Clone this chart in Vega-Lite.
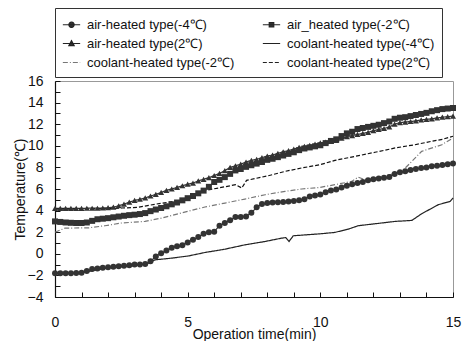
{
  "$schema": "https://vega.github.io/schema/vega-lite/v6.json",
  "width": 398,
  "height": 216,
  "autosize": {"type": "none"},
  "padding": {"left": 55, "top": 81, "right": 10, "bottom": 44},
  "background": "white",
  "config": {
    "view": {"stroke": "#999", "strokeWidth": 1},
    "font": "Liberation Sans",
    "axis": {"domainColor": "#111", "tickColor": "#111", "labelColor": "#111", "titleColor": "#111", "labelFont": "Liberation Sans", "titleFont": "Liberation Sans", "labelFontSize": 14, "titleFontSize": 14, "titleFontWeight": "normal", "grid": false, "tickSize": -5, "domainWidth": 1.2, "tickWidth": 1},
    "legend": {"labelFont": "Liberation Sans", "labelFontSize": 13, "labelColor": "#111"}
  },
  "data": {"values": [
    {"s":"A1","t":0,"v":-1.8},{"s":"A1","t":0.2,"v":-1.8},{"s":"A1","t":0.4,"v":-1.8},{"s":"A1","t":0.6,"v":-1.8},{"s":"A1","t":0.8,"v":-1.78},{"s":"A1","t":1,"v":-1.75},{"s":"A1","t":1.2,"v":-1.6},{"s":"A1","t":1.4,"v":-1.4},{"s":"A1","t":1.6,"v":-1.35},{"s":"A1","t":1.8,"v":-1.3},
    {"s":"A1","t":2,"v":-1.25},{"s":"A1","t":2.2,"v":-1.2},{"s":"A1","t":2.4,"v":-1.15},{"s":"A1","t":2.6,"v":-1.1},{"s":"A1","t":2.8,"v":-1.05},{"s":"A1","t":3,"v":-1.0},{"s":"A1","t":3.2,"v":-1.0},{"s":"A1","t":3.4,"v":-0.95},{"s":"A1","t":3.6,"v":-0.7},{"s":"A1","t":3.8,"v":-0.25},
    {"s":"A1","t":4,"v":0.05},{"s":"A1","t":4.2,"v":0.3},{"s":"A1","t":4.4,"v":0.55},{"s":"A1","t":4.6,"v":0.7},{"s":"A1","t":4.8,"v":0.8},{"s":"A1","t":5,"v":1.05},{"s":"A1","t":5.2,"v":1.3},{"s":"A1","t":5.4,"v":1.55},{"s":"A1","t":5.6,"v":1.85},{"s":"A1","t":5.8,"v":2.0},
    {"s":"A1","t":6,"v":2.05},{"s":"A1","t":6.2,"v":2.6},{"s":"A1","t":6.4,"v":2.85},{"s":"A1","t":6.6,"v":3.1},{"s":"A1","t":6.8,"v":3.4},{"s":"A1","t":7,"v":3.4},{"s":"A1","t":7.2,"v":3.45},{"s":"A1","t":7.4,"v":3.8},{"s":"A1","t":7.6,"v":4.3},{"s":"A1","t":7.8,"v":4.6},
    {"s":"A1","t":8,"v":4.7},{"s":"A1","t":8.2,"v":4.75},{"s":"A1","t":8.4,"v":4.78},{"s":"A1","t":8.6,"v":4.8},{"s":"A1","t":8.8,"v":4.85},{"s":"A1","t":9,"v":4.9},{"s":"A1","t":9.2,"v":4.95},{"s":"A1","t":9.4,"v":5.05},{"s":"A1","t":9.6,"v":5.3},{"s":"A1","t":9.8,"v":5.4},
    {"s":"A1","t":10,"v":5.5},{"s":"A1","t":10.2,"v":5.7},{"s":"A1","t":10.4,"v":5.85},{"s":"A1","t":10.6,"v":5.95},{"s":"A1","t":10.8,"v":6.15},{"s":"A1","t":11,"v":6.3},{"s":"A1","t":11.2,"v":6.45},{"s":"A1","t":11.4,"v":6.55},{"s":"A1","t":11.6,"v":6.65},{"s":"A1","t":11.8,"v":6.8},
    {"s":"A1","t":12,"v":6.9},{"s":"A1","t":12.2,"v":6.98},{"s":"A1","t":12.4,"v":7.05},{"s":"A1","t":12.6,"v":7.1},{"s":"A1","t":12.8,"v":7.4},{"s":"A1","t":13,"v":7.55},{"s":"A1","t":13.2,"v":7.65},{"s":"A1","t":13.4,"v":7.75},{"s":"A1","t":13.6,"v":7.85},{"s":"A1","t":13.8,"v":7.95},
    {"s":"A1","t":14,"v":8.0},{"s":"A1","t":14.2,"v":8.1},{"s":"A1","t":14.4,"v":8.15},{"s":"A1","t":14.6,"v":8.22},{"s":"A1","t":14.8,"v":8.3},{"s":"A1","t":15,"v":8.35},

    {"s":"A2","t":0,"v":3.0},{"s":"A2","t":0.2,"v":2.95},{"s":"A2","t":0.4,"v":2.9},{"s":"A2","t":0.6,"v":2.87},{"s":"A2","t":0.8,"v":2.85},{"s":"A2","t":1,"v":2.85},{"s":"A2","t":1.2,"v":2.9},{"s":"A2","t":1.4,"v":3.05},{"s":"A2","t":1.6,"v":3.2},{"s":"A2","t":1.8,"v":3.25},
    {"s":"A2","t":2,"v":3.3},{"s":"A2","t":2.2,"v":3.38},{"s":"A2","t":2.4,"v":3.45},{"s":"A2","t":2.6,"v":3.52},{"s":"A2","t":2.8,"v":3.58},{"s":"A2","t":3,"v":3.62},{"s":"A2","t":3.2,"v":3.68},{"s":"A2","t":3.4,"v":3.77},{"s":"A2","t":3.6,"v":3.95},{"s":"A2","t":3.8,"v":4.1},
    {"s":"A2","t":4,"v":4.24},{"s":"A2","t":4.2,"v":4.4},{"s":"A2","t":4.4,"v":4.58},{"s":"A2","t":4.6,"v":4.75},{"s":"A2","t":4.8,"v":4.95},{"s":"A2","t":5,"v":5.15},{"s":"A2","t":5.2,"v":5.35},{"s":"A2","t":5.4,"v":5.6},{"s":"A2","t":5.6,"v":5.85},{"s":"A2","t":5.8,"v":6.2},
    {"s":"A2","t":6,"v":6.65},{"s":"A2","t":6.2,"v":6.85},{"s":"A2","t":6.4,"v":7.1},{"s":"A2","t":6.6,"v":7.4},{"s":"A2","t":6.8,"v":7.72},{"s":"A2","t":7,"v":7.85},{"s":"A2","t":7.2,"v":8.05},{"s":"A2","t":7.4,"v":8.2},{"s":"A2","t":7.6,"v":8.35},{"s":"A2","t":7.8,"v":8.5},
    {"s":"A2","t":8,"v":8.7},{"s":"A2","t":8.2,"v":8.8},{"s":"A2","t":8.4,"v":8.95},{"s":"A2","t":8.6,"v":9.1},{"s":"A2","t":8.8,"v":9.25},{"s":"A2","t":9,"v":9.4},{"s":"A2","t":9.2,"v":9.6},{"s":"A2","t":9.4,"v":9.75},{"s":"A2","t":9.6,"v":9.85},{"s":"A2","t":9.8,"v":9.95},
    {"s":"A2","t":10,"v":10.05},{"s":"A2","t":10.2,"v":10.25},{"s":"A2","t":10.4,"v":10.45},{"s":"A2","t":10.6,"v":10.6},{"s":"A2","t":10.8,"v":10.9},{"s":"A2","t":11,"v":11.15},{"s":"A2","t":11.2,"v":11.3},{"s":"A2","t":11.4,"v":11.55},{"s":"A2","t":11.6,"v":11.65},{"s":"A2","t":11.8,"v":11.75},
    {"s":"A2","t":12,"v":11.85},{"s":"A2","t":12.2,"v":11.95},{"s":"A2","t":12.4,"v":12.1},{"s":"A2","t":12.6,"v":12.25},{"s":"A2","t":12.8,"v":12.5},{"s":"A2","t":13,"v":12.6},{"s":"A2","t":13.2,"v":12.65},{"s":"A2","t":13.4,"v":12.75},{"s":"A2","t":13.6,"v":12.85},{"s":"A2","t":13.8,"v":12.95},
    {"s":"A2","t":14,"v":13.05},{"s":"A2","t":14.2,"v":13.2},{"s":"A2","t":14.4,"v":13.3},{"s":"A2","t":14.6,"v":13.4},{"s":"A2","t":14.8,"v":13.45},{"s":"A2","t":15,"v":13.5},

    {"s":"A3","t":0,"v":4.2},{"s":"A3","t":0.2,"v":4.2},{"s":"A3","t":0.4,"v":4.2},{"s":"A3","t":0.6,"v":4.2},{"s":"A3","t":0.8,"v":4.2},{"s":"A3","t":1,"v":4.2},{"s":"A3","t":1.2,"v":4.22},{"s":"A3","t":1.4,"v":4.22},{"s":"A3","t":1.6,"v":4.22},{"s":"A3","t":1.8,"v":4.24},
    {"s":"A3","t":2,"v":4.27},{"s":"A3","t":2.2,"v":4.32},{"s":"A3","t":2.4,"v":4.45},{"s":"A3","t":2.6,"v":4.6},{"s":"A3","t":2.8,"v":4.78},{"s":"A3","t":3,"v":4.94},{"s":"A3","t":3.2,"v":5.05},{"s":"A3","t":3.4,"v":5.17},{"s":"A3","t":3.6,"v":5.35},{"s":"A3","t":3.8,"v":5.5},
    {"s":"A3","t":4,"v":5.68},{"s":"A3","t":4.2,"v":5.88},{"s":"A3","t":4.4,"v":6.0},{"s":"A3","t":4.6,"v":6.15},{"s":"A3","t":4.8,"v":6.3},{"s":"A3","t":5,"v":6.45},{"s":"A3","t":5.2,"v":6.55},{"s":"A3","t":5.4,"v":6.75},{"s":"A3","t":5.6,"v":6.9},{"s":"A3","t":5.8,"v":7.05},
    {"s":"A3","t":6,"v":7.25},{"s":"A3","t":6.2,"v":7.45},{"s":"A3","t":6.4,"v":7.7},{"s":"A3","t":6.6,"v":8.0},{"s":"A3","t":6.8,"v":8.15},{"s":"A3","t":7,"v":8.3},{"s":"A3","t":7.2,"v":8.5},{"s":"A3","t":7.4,"v":8.65},{"s":"A3","t":7.6,"v":8.75},{"s":"A3","t":7.8,"v":8.9},
    {"s":"A3","t":8,"v":9.05},{"s":"A3","t":8.2,"v":9.15},{"s":"A3","t":8.4,"v":9.3},{"s":"A3","t":8.6,"v":9.45},{"s":"A3","t":8.8,"v":9.55},{"s":"A3","t":9,"v":9.7},{"s":"A3","t":9.2,"v":9.85},{"s":"A3","t":9.4,"v":9.95},{"s":"A3","t":9.6,"v":10.05},{"s":"A3","t":9.8,"v":10.15},
    {"s":"A3","t":10,"v":10.27},{"s":"A3","t":10.2,"v":10.35},{"s":"A3","t":10.4,"v":10.42},{"s":"A3","t":10.6,"v":10.5},{"s":"A3","t":10.8,"v":10.7},{"s":"A3","t":11,"v":10.85},{"s":"A3","t":11.2,"v":10.95},{"s":"A3","t":11.4,"v":11.05},{"s":"A3","t":11.6,"v":11.15},{"s":"A3","t":11.8,"v":11.25},
    {"s":"A3","t":12,"v":11.4},{"s":"A3","t":12.2,"v":11.52},{"s":"A3","t":12.4,"v":11.6},{"s":"A3","t":12.6,"v":11.75},{"s":"A3","t":12.8,"v":12.0},{"s":"A3","t":13,"v":12.15},{"s":"A3","t":13.2,"v":12.2},{"s":"A3","t":13.4,"v":12.25},{"s":"A3","t":13.6,"v":12.3},{"s":"A3","t":13.8,"v":12.4},
    {"s":"A3","t":14,"v":12.45},{"s":"A3","t":14.2,"v":12.5},{"s":"A3","t":14.4,"v":12.58},{"s":"A3","t":14.6,"v":12.65},{"s":"A3","t":14.8,"v":12.7},{"s":"A3","t":15,"v":12.75},

    {"s":"C1","t":0,"v":-1.8},{"s":"C1","t":1,"v":-1.75},{"s":"C1","t":2,"v":-1.3},{"s":"C1","t":3,"v":-1.1},{"s":"C1","t":3.5,"v":-0.9},{"s":"C1","t":3.77,"v":-0.56},{"s":"C1","t":4.4,"v":-0.4},{"s":"C1","t":5.03,"v":-0.2},{"s":"C1","t":5.65,"v":0.12},{"s":"C1","t":6.41,"v":0.43},
    {"s":"C1","t":7.16,"v":0.83},{"s":"C1","t":7.92,"v":1.14},{"s":"C1","t":8.54,"v":1.45},{"s":"C1","t":8.7,"v":1.5},{"s":"C1","t":8.82,"v":1.14},{"s":"C1","t":8.98,"v":1.67},{"s":"C1","t":9.99,"v":1.85},{"s":"C1","t":10.55,"v":1.98},{"s":"C1","t":11.06,"v":2.29},{"s":"C1","t":11.43,"v":2.6},
    {"s":"C1","t":12.06,"v":2.78},{"s":"C1","t":12.82,"v":3.0},{"s":"C1","t":13.45,"v":3.09},{"s":"C1","t":13.82,"v":3.71},{"s":"C1","t":14.45,"v":4.55},{"s":"C1","t":14.89,"v":4.85},{"s":"C1","t":15,"v":5.17},

    {"s":"C2","t":0,"v":2.0},{"s":"C2","t":0.38,"v":2.38},{"s":"C2","t":1.26,"v":2.4},{"s":"C2","t":1.88,"v":2.6},{"s":"C2","t":2.5,"v":2.85},{"s":"C2","t":3.39,"v":3.0},{"s":"C2","t":4.02,"v":3.31},{"s":"C2","t":5.03,"v":3.95},{"s":"C2","t":5.65,"v":4.33},{"s":"C2","t":6.41,"v":4.7},
    {"s":"C2","t":7.16,"v":5.07},{"s":"C2","t":7.92,"v":5.47},{"s":"C2","t":8.67,"v":5.78},{"s":"C2","t":9.3,"v":6.0},{"s":"C2","t":9.99,"v":6.15},{"s":"C2","t":10.55,"v":6.4},{"s":"C2","t":11.18,"v":6.7},{"s":"C2","t":11.43,"v":7.1},{"s":"C2","t":11.68,"v":6.86},{"s":"C2","t":12.31,"v":7.1},
    {"s":"C2","t":13.07,"v":7.63},{"s":"C2","t":13.45,"v":8.56},{"s":"C2","t":13.82,"v":9.49},{"s":"C2","t":14.58,"v":10.1},{"s":"C2","t":14.95,"v":10.64},{"s":"C2","t":15,"v":10.7},

    {"s":"C3","t":0,"v":4.14},{"s":"C3","t":1,"v":4.14},{"s":"C3","t":2,"v":4.17},{"s":"C3","t":2.5,"v":4.24},{"s":"C3","t":3.1,"v":4.3},{"s":"C3","t":3.8,"v":4.6},{"s":"C3","t":4.2,"v":4.75},{"s":"C3","t":4.7,"v":4.94},{"s":"C3","t":5.2,"v":5.3},{"s":"C3","t":5.65,"v":5.87},
    {"s":"C3","t":6.16,"v":6.09},{"s":"C3","t":6.6,"v":6.3},{"s":"C3","t":6.8,"v":6.4},{"s":"C3","t":7.04,"v":6.09},{"s":"C3","t":7.22,"v":6.8},{"s":"C3","t":8.04,"v":7.23},{"s":"C3","t":8.67,"v":7.63},{"s":"C3","t":9.3,"v":7.95},{"s":"C3","t":9.99,"v":8.25},{"s":"C3","t":10.55,"v":8.65},
    {"s":"C3","t":11.31,"v":9.02},{"s":"C3","t":12.06,"v":9.4},{"s":"C3","t":12.82,"v":9.8},{"s":"C3","t":13.57,"v":10.1},{"s":"C3","t":14.2,"v":10.42},{"s":"C3","t":14.6,"v":10.6},{"s":"C3","t":15,"v":10.88}
  ]},
  "encoding": {
    "x": {"field": "t", "type": "quantitative", "scale": {"domain": [0, 15], "nice": false},
      "axis": {"title": "Operation time(min)", "values": [0,1,2,3,4,5,6,7,8,9,10,11,12,13,14,15], "labelExpr": "datum.value % 5 === 0 ? datum.label : ''", "labelPadding": 23, "titleY": 30, "labelFlush": false}},
    "y": {"field": "v", "type": "quantitative", "scale": {"domain": [-4, 16], "nice": false},
      "axis": {"title": "Temperature(℃)", "values": [-4,-3,-2,-1,0,1,2,3,4,5,6,7,8,9,10,11,12,13,14,15,16], "labelExpr": "datum.value % 2 === 0 ? datum.label : ''", "labelPadding": 17, "titlePadding": 0, "labelFlush": false}}
  },
  "layer": [
    {
      "mark": {"type": "line", "strokeWidth": 1.2},
      "encoding": {
        "color": {"field": "s", "type": "nominal", "legend": null,
          "scale": {"domain": ["C2","C1","C3","A1","A2","A3"], "range": ["#777","#222","#111","#333","#333","#333"]}},
        "strokeDash": {"field": "s", "type": "nominal",
          "scale": {"domain": ["A1","A3","C2","A2","C1","C3"], "range": [[1,0],[1,0],[5,2,1,2],[1,0],[1,0],[4,2]]},
          "legend": {
            "title": null, "orient": "none", "legendX": 0, "legendY": -73, "columns": 2,
            "columnPadding": 25, "rowPadding": 2, "padding": 7, "strokeColor": "#333",
            "symbolSize": 300, "symbolType": "stroke", "labelOffset": 6, "symbolStrokeWidth": 1.2,
            "labelExpr": "datum.value === 'A1' ? 'air-heated type(-4℃)' : datum.value === 'A2' ? 'air_heated type(-2℃)' : datum.value === 'A3' ? 'air-heated type(2℃)' : datum.value === 'C1' ? 'coolant-heated type(-4℃)' : datum.value === 'C2' ? 'coolant-heated type(-2℃)' : 'coolant-heated type(2℃)'",
            "encode": {"symbols": {"update": {
              "shape": {"signal": "datum.value === 'A1' ? 'M-1,0H1M0.3,0A0.3,0.3,0,1,1,-0.3,0A0.3,0.3,0,1,1,0.3,0Z' : datum.value === 'A2' ? 'M-1,0H1M-0.26,-0.26H0.26V0.26H-0.26Z' : datum.value === 'A3' ? 'M-1,0H1M0,-0.32L0.3,0.24H-0.3Z' : 'stroke'"},
              "fill": {"value": "#333"},
              "stroke": {"signal": "datum.value === 'C2' ? '#777' : '#222'"}
            }}}
          }}
      }
    },
    {
      "transform": [{"filter": "indexof(datum.s, 'A') === 0"}],
      "mark": {"type": "point", "filled": true, "opacity": 1, "color": "#333"},
      "encoding": {
        "shape": {"field": "s", "type": "nominal", "legend": null,
          "scale": {"domain": ["A1","A2","A3"], "range": ["circle","square","triangle-up"]}},
        "size": {"value": 36}
      }
    }
  ]
}
